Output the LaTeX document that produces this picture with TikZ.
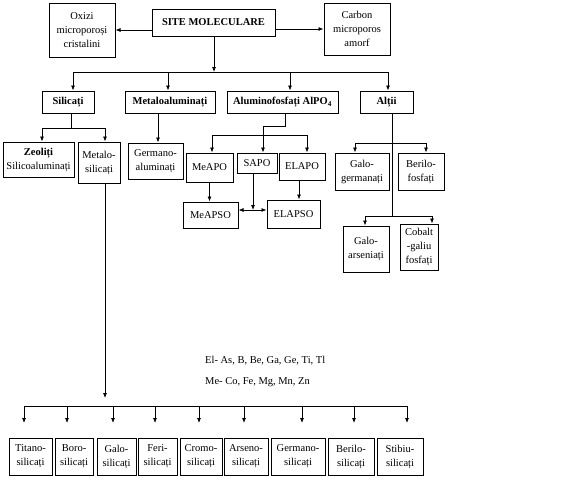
\documentclass[tikz,border=0pt]{standalone}
\usepackage{fontspec}
\setmainfont{Liberation Serif}
\usetikzlibrary{arrows.meta}
\begin{document}
\begin{tikzpicture}[x=1pt,y=-1pt,
  box/.style={draw, line width=1pt, inner sep=1pt, align=center, font=\fontsize{10.5}{14}\selectfont},
  cat/.style={box, font=\fontsize{10.5}{14}\selectfont\bfseries},
  ln/.style={line width=0.75pt},
  arr/.style={line width=0.75pt, -{Latex[length=5pt,width=4pt]}},
  darr/.style={line width=0.75pt, {Latex[length=5pt,width=4pt]}-{Latex[length=5pt,width=4pt]}},
  lbl/.style={anchor=west, inner sep=0pt, font=\fontsize{10.5}{14}\selectfont}]
\useasboundingbox (0,0) rectangle (576,499);

% top level
\node[box, minimum width=66pt, minimum height=54pt] (Oxizi) at (82,30) {Oxizi\\microporoși\\cristalini};
\node[cat, minimum width=123pt, minimum height=27pt] (SITE) at (213.5,22.5) {SITE MOLECULARE};
\node[box, minimum width=66pt, minimum height=52pt] (Carbon) at (357,29) {Carbon\\microporos\\amorf};

% categories
\node[cat, minimum width=52pt, minimum height=22pt] (Silicati) at (68,102) {Silicați};
\node[cat, minimum width=90pt, minimum height=22pt] (Metaloal) at (170,102) {Metaloaluminați};
\node[cat, minimum width=111pt, minimum height=22pt] (Alufos) at (282.5,102) {Aluminofosfați AlPO\textsubscript{4}};
\node[cat, minimum width=53pt, minimum height=22pt] (Altii) at (386.5,102) {Alții};

% level 3
\node[box, minimum width=71pt, minimum height=35pt] (Zeoliti) at (38.5,159.5) {\textbf{Zeoliți}\\Silicoaluminați};
\node[box, minimum width=42pt, minimum height=41pt] (Metalo) at (99,162.5) {Metalo-\\silicați};
\node[box, minimum width=55pt, minimum height=36pt] (GermAl) at (155.5,161) {Germano-\\aluminați};
\node[box, minimum width=47pt, minimum height=29pt] (MeAPO) at (209.5,167.5) {MeAPO};
\node[box, minimum width=40pt, minimum height=20pt] (SAPO) at (257,163) {SAPO};
\node[box, minimum width=46pt, minimum height=27pt] (ELAPO) at (302,166.5) {ELAPO};
\node[box, minimum width=55pt, minimum height=26pt] (MeAPSO) at (210.5,215) {MeAPSO};
\node[box, minimum width=53pt, minimum height=28pt] (ELAPSO) at (293.5,214) {ELAPSO};
\node[box, minimum width=54pt, minimum height=37pt] (GaloGe) at (362,171.5) {Galo-\\germanați};
\node[box, minimum width=46pt, minimum height=37pt] (BeriloF) at (421,171.5) {Berilo-\\fosfați};
\node[box, minimum width=46pt, minimum height=46pt] (GaloAs) at (366,249) {Galo-\\arseniați};
\node[box, minimum width=38pt, minimum height=46pt] (Cobalt) at (419,247) {Cobalt\\-galiu\\fosfați};

% bottom row
\node[box, minimum width=43pt, minimum height=37pt] (b1) at (30.5,456.5) {Titano-\\silicați};
\node[box, minimum width=38pt, minimum height=37pt] (b2) at (74,456.5) {Boro-\\silicați};
\node[box, minimum width=39pt, minimum height=37pt] (b3) at (116.5,456.5) {Galo-\\silicați};
\node[box, minimum width=39pt, minimum height=37pt] (b4) at (157.5,456.5) {Feri-\\silicați};
\node[box, minimum width=42pt, minimum height=37pt] (b5) at (201,456.5) {Cromo-\\silicați};
\node[box, minimum width=44pt, minimum height=37pt] (b6) at (246,456.5) {Arseno-\\silicați};
\node[box, minimum width=54pt, minimum height=37pt] (b7) at (298,456.5) {Germano-\\silicați};
\node[box, minimum width=46pt, minimum height=37pt] (b8) at (351,456.5) {Berilo-\\silicați};
\node[box, minimum width=46pt, minimum height=37pt] (b9) at (400,456.5) {Stibiu-\\silicați};

% legend text
\node[lbl] (el) at (205,361) {El- As, B, Be, Ga, Ge, Ti, Tl};
\node[lbl] (me) at (205,382) {Me- Co, Fe, Mg, Mn, Zn};

% top connectors
\draw[arr] (SITE.west |- Oxizi) -- (Oxizi.east);
\draw[arr] (SITE.east |- Carbon) -- (Carbon.west);
\coordinate (j1) at (214,72);
\coordinate (a1) at (73,72);
\coordinate (a2) at (168,72);
\coordinate (a3) at (290,72);
\coordinate (a4) at (388,72);
\draw[arr] (SITE.south -| j1) -- (j1);
\draw[ln] (a1) -- (a4);
\draw[arr] (a1) -- (a1 |- Silicati.north);
\draw[arr] (a2) -- (a2 |- Metaloal.north);
\draw[arr] (a3) -- (a3 |- Alufos.north);
\draw[arr] (a4) -- (a4 |- Altii.north);

% Silicati
\coordinate (s1) at (71,128);
\coordinate (s0) at (42,128);
\coordinate (s2) at (105,128);
\draw[ln] (Silicati.south -| s1) -- (s1);
\draw[ln] (s0) -- (s2);
\draw[arr] (s0) -- (s0 |- Zeoliti.north);
\draw[arr] (s2) -- (s2 |- Metalo.north);

% Metaloaluminati
\coordinate (m1) at (158,113);
\draw[arr] (Metaloal.south -| m1) -- (m1 |- GermAl.north);

% Aluminofosfati
\coordinate (p1) at (285,126);
\coordinate (p2) at (263,126);
\coordinate (q0) at (212,135);
\coordinate (q1) at (307,135);
\draw[ln] (Alufos.south -| p1) -- (p1) -- (p2);
\draw[arr] (p2) -- (p2 |- SAPO.north);
\draw[ln] (q0) -- (q1);
\draw[arr] (q0) -- (q0 |- MeAPO.north);
\draw[arr] (q1) -- (q1 |- ELAPO.north);
\draw[arr] (MeAPO.south) -- (MeAPO.south |- MeAPSO.north);
\coordinate (r2) at (253,210);
\coordinate (r3) at (299,190);
\draw[arr] (SAPO.south -| r2) -- (r2);
\draw[darr] (MeAPSO.east |- r2) -- (ELAPSO.west |- r2);
\draw[arr] (ELAPO.south -| r3) -- (r3 |- ELAPSO.north);

% Altii
\coordinate (t1) at (392,143);
\coordinate (t2) at (392,216);
\coordinate (u0) at (355,143);
\coordinate (u1) at (426,143);
\coordinate (v0) at (365,216);
\coordinate (v1) at (432,216);
\draw[ln] (Altii.south -| t1) -- (t2);
\draw[ln] (u0) -- (u1);
\draw[ln] (v0) -- (v1);
\draw[arr] (u0) -- (u0 |- GaloGe.north);
\draw[arr] (u1) -- (u1 |- BeriloF.north);
\draw[arr] (v0) -- (v0 |- GaloAs.north);
\draw[arr] (v1) -- (v1 |- Cobalt.north);

% Metalo-silicati branch
\coordinate (w0) at (105,398);
\coordinate (hl) at (24,406);
\coordinate (hr) at (407,406);
\draw[arr] (Metalo.south -| w0) -- (w0);
\draw[ln] (hl) -- (hr);
\foreach \x/\n in {24/1,67/2,113/3,155/4,199/5,244/6,302/7,354/8,407/9}{
  \coordinate (e\n) at (\x,423);
  \draw[arr] (e\n |- hl) -- (e\n);
}
\end{tikzpicture}
\end{document}
